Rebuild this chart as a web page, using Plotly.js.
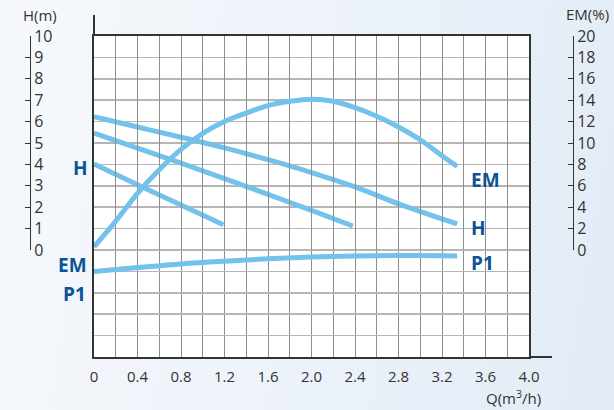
<!DOCTYPE html>
<html>
<head>
<meta charset="utf-8">
<script src="https://cdn.plot.ly/plotly-3.0.1.min.js"></script>
<style>
html,body{margin:0;padding:0;}
body{width:614px;height:410px;overflow:hidden;background:linear-gradient(100deg,#f6f9fc 0%,#eef3fa 45%,#e2ebf6 100%);}
#chart{width:614px;height:410px;}
</style>
</head>
<body>
<div id="chart"></div>
<script>
// ---- data ----
const xTickVals = [0,0.2,0.4,0.6,0.8,1.0,1.2,1.4,1.6,1.8,2.0,2.2,2.4,2.6,2.8,3.0,3.2,3.4,3.6,3.8,4.0];
const xTickText = ["0"," ","0.4"," ","0.8"," ","1.2"," ","1.6"," ","2.0"," ","2.4"," ","2.8"," ","3.2"," ","3.6"," ","4.0"];

const qEM = [0,0.2,0.4,0.6,0.8,1.0,1.2,1.4,1.6,1.8,2.0,2.2,2.4,2.6,2.8,3.0,3.2,3.34];
const emPct = [0.3,2.7,5.3,7.5,9.4,10.9,12.0,12.8,13.5,13.9,14.1,13.9,13.3,12.5,11.5,10.3,8.8,7.8];

const qH1 = [0,0.4,0.8,1.2,1.6,2.0,2.4,2.8,3.34];
const head1 = [6.23,5.75,5.27,4.77,4.22,3.62,2.95,2.16,1.22];

const qH2 = [0,0.4,0.8,1.2,1.6,2.0,2.38];
const head2 = [5.46,4.76,4.06,3.34,2.6,1.85,1.12];

const qH3 = [0,0.4,0.8,1.19];
const head3 = [4.02,3.05,2.1,1.18];

const qP1 = [0,0.4,0.8,1.2,1.6,2.0,2.4,2.8,3.2,3.34];
const p1 = [-1.0,-0.82,-0.65,-0.52,-0.41,-0.33,-0.28,-0.26,-0.27,-0.28];

const hTicks = [0,1,2,3,4,5,6,7,8,9,10];
const emTicks = [0,2,4,6,8,10,12,14,16,18,20];

// ---- layout helpers (pixel -> paper) ----
const W = 614, H = 410, ML = 10, MR = 10, MT = 36, MB = 53;
const PW = W - ML - MR, PH = H - MT - MB;
const px = v => (v - ML) / PW;
const py = v => (H - MB - v) / PH;

const lineColor = '#72c2ec';
const labelColor = '#0b5396';
const fontFam = '"Open Sans", "DejaVu Sans", sans-serif';

const curve = (x, y, yaxis) => ({
  x: x, y: y, yaxis: yaxis, type: 'scatter', mode: 'lines',
  line: {color: lineColor, width: 5, shape: 'spline', smoothing: 1},
  hoverinfo: 'skip', showlegend: false
});

const data = [
  curve(qH1, head1, 'y2'),
  curve(qH2, head2, 'y2'),
  curve(qH3, head3, 'y2'),
  curve(qEM, emPct, 'y3'),
  curve(qP1, p1, 'y')
];

const lbl = (text, x, y, size, bold, color) => ({
  text: bold ? '<b>' + text + '</b>' : text,
  x: px(x), y: py(y), xref: 'paper', yref: 'paper',
  showarrow: false, xanchor: 'center', yanchor: 'middle',
  font: {family: fontFam, size: size, color: color}
});

const layout = {
  width: W, height: H,
  margin: {l: ML, r: MR, t: MT, b: MB},
  paper_bgcolor: 'rgba(0,0,0,0)',
  plot_bgcolor: 'rgba(0,0,0,0)',
  showlegend: false,
  font: {family: fontFam, color: '#333'},
  xaxis: {
    domain: [px(94), px(529)], range: [0, 4], anchor: 'y',
    tickmode: 'array', tickvals: xTickVals, ticktext: xTickText,
    ticks: '', ticklabelstandoff: 5,
    tickfont: {size: 15, color: '#333', family: fontFam},
    showgrid: true, gridcolor: '#8e8e8e', gridwidth: 1,
    zeroline: false, showline: true, linecolor: '#333', linewidth: 2, mirror: true
  },
  yaxis: {
    domain: [0, 1], range: [-5, 10], dtick: 1, tick0: 0,
    showticklabels: false, ticks: '',
    showgrid: true, gridcolor: '#b6b6b6', gridwidth: 1.5,
    zeroline: false, showline: true, linecolor: '#333', linewidth: 2, mirror: true
  },
  yaxis2: {
    domain: [1/3, 1], range: [0, 10], anchor: 'free', position: px(30), side: 'right',
    tickmode: 'array', tickvals: hTicks, ticks: 'inside', ticklen: 5, tickcolor: '#333',
    showline: true, linecolor: '#333', linewidth: 1, showgrid: false, zeroline: false,
    tickfont: {size: 16, color: '#333', family: fontFam}
  },
  yaxis3: {
    domain: [1/3, 1], range: [0, 20], anchor: 'free', position: px(573), side: 'right',
    tickmode: 'array', tickvals: emTicks, ticks: 'inside', ticklen: 5, tickcolor: '#333',
    showline: true, linecolor: '#333', linewidth: 1, showgrid: false, zeroline: false,
    tickfont: {size: 16, color: '#333', family: fontFam}
  },
  shapes: [
    {type: 'rect', xref: 'x domain', yref: 'y domain', x0: 0, x1: 1, y0: 0, y1: 1,
     fillcolor: '#ffffff', line: {width: 0}, layer: 'below'},
    {type: 'line', xref: 'paper', yref: 'paper', x0: px(94), x1: px(94), y0: py(36), y1: py(15),
     line: {color: '#333', width: 2}},
    {type: 'line', xref: 'paper', yref: 'paper', x0: px(529), x1: px(552), y0: py(357), y1: py(357),
     line: {color: '#333', width: 2}}
  ],
  annotations: [
    lbl('H(m)', 40, 15, 15, false, '#333'),
    lbl('EM(%)', 587, 14, 15, false, '#333'),
    lbl('Q(m<sup>3</sup>/h)', 513, 398, 15, false, '#333'),
    lbl('H', 80, 168, 19, true, labelColor),
    lbl('EM', 72, 265, 19, true, labelColor),
    lbl('P1', 74, 294, 19, true, labelColor),
    lbl('EM', 485, 180, 19, true, labelColor),
    lbl('H', 478, 228, 19, true, labelColor),
    lbl('P1', 482, 263, 19, true, labelColor)
  ]
};

Plotly.newPlot('chart', data, layout, {staticPlot: true, displayModeBar: false});
</script>
</body>
</html>
